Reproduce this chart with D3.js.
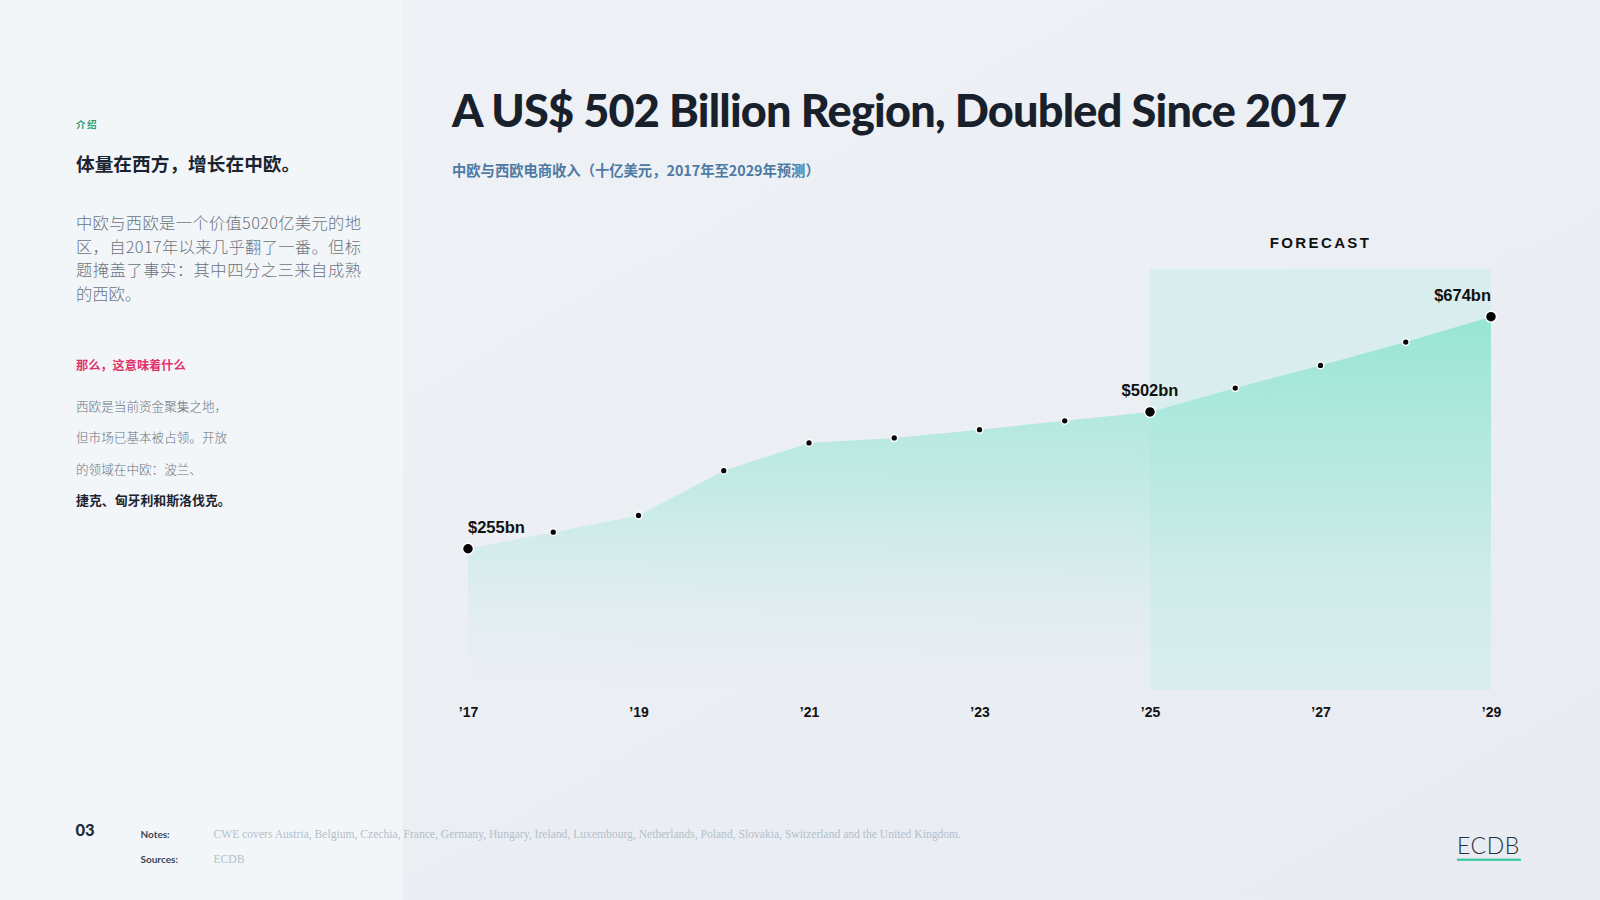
<!DOCTYPE html>
<html>
<head>
<meta charset="utf-8">
<script src="https://cdn.jsdelivr.net/npm/d3@7"></script>
<style>
  body { margin: 0; background: #edf0f4; }
  svg { display: block; }
</style>
</head>
<body>
<div id="chart"></div>
<script>
// Chart data
const years = [2017, 2018, 2019, 2020, 2021, 2022, 2023, 2024, 2025, 2026, 2027, 2028, 2029];
const revenue = [255, 285, 315, 396, 446, 455, 470, 486, 502, 545, 586, 628, 674];
const tickYears = [2017, 2019, 2021, 2023, 2025, 2027, 2029];
const tickLabels = ["’17", "’19", "’21", "’23", "’25", "’27", "’29"];
const calloutYears = [2017, 2025, 2029];
const calloutLabels = ["$255bn", "$502bn", "$674bn"];
const forecastYears = [2025, 2029];

// Side panel text
const introParagraph = [
  "中欧与西欧是一个价值5020亿美元的地",
  "区，自2017年以来几乎翻了一番。但标",
  "题掩盖了事实：其中四分之三来自成熟",
  "的西欧。"
];
const meaningLines = [
  "西欧是当前资金聚集之地，",
  "但市场已基本被占领。开放",
  "的领域在中欧：波兰、",
  "捷克、匈牙利和斯洛伐克。"
];

const width = 1600;
const height = 900;
const sans = "'Liberation Sans', Arial, sans-serif";
const cjk = "'Noto Sans CJK SC', 'Noto Sans', sans-serif";

const svg = d3.select("#chart")
  .append("svg")
  .attr("width", width)
  .attr("height", height);

const defs = svg.append("defs");

// background gradient
const bgGrad = defs.append("linearGradient")
  .attr("id", "bgGrad")
  .attr("x1", "0").attr("y1", "0").attr("x2", "1").attr("y2", "1");
bgGrad.append("stop").attr("offset", "0%").attr("stop-color", "#eff2f6");
bgGrad.append("stop").attr("offset", "100%").attr("stop-color", "#e8ecf2");

svg.append("rect")
  .attr("width", width).attr("height", height)
  .attr("fill", "url(#bgGrad)");

// left panel
svg.append("rect")
  .attr("width", 403).attr("height", height)
  .attr("fill", "#f3f6f9");

// Scales
const x = d3.scaleLinear().domain([2017, 2029]).range([468, 1491]);
const y = d3.scaleLinear().domain([0, 760]).range([690, 269]);

const data = years.map((yr, i) => ({ year: yr, value: revenue[i] }));

// area gradient (fades toward the baseline)
const areaGrad = defs.append("linearGradient")
  .attr("id", "areaGrad")
  .attr("gradientUnits", "userSpaceOnUse")
  .attr("x1", 0).attr("x2", 0)
  .attr("y1", y(d3.max(revenue))).attr("y2", y(0));
areaGrad.append("stop").attr("offset", "0%").attr("stop-color", "#8be4cf").attr("stop-opacity", 0.85);
areaGrad.append("stop").attr("offset", "50%").attr("stop-color", "#a3e6d9").attr("stop-opacity", 0.5);
areaGrad.append("stop").attr("offset", "100%").attr("stop-color", "#cfe9ea").attr("stop-opacity", 0.0);

// Forecast band
svg.append("rect")
  .attr("x", x(forecastYears[0]))
  .attr("y", y.range()[1])
  .attr("width", x(forecastYears[1]) - x(forecastYears[0]))
  .attr("height", y(0) - y.range()[1])
  .attr("fill", "rgba(160,236,222,0.22)");

svg.append("text")
  .attr("x", (x(forecastYears[0]) + x(forecastYears[1])) / 2)
  .attr("y", 248)
  .attr("text-anchor", "middle")
  .attr("font-family", sans)
  .attr("font-weight", 700)
  .attr("font-size", 15)
  .attr("letter-spacing", 2.4)
  .attr("fill", "#111")
  .text("FORECAST");

// Area
const area = d3.area()
  .x(d => x(d.year))
  .y0(y(0))
  .y1(d => y(d.value))
  .curve(d3.curveLinear);

svg.append("path")
  .datum(data)
  .attr("d", area)
  .attr("fill", "url(#areaGrad)");

// Dots
svg.selectAll(".dot")
  .data(data)
  .enter()
  .append("circle")
  .attr("class", "dot")
  .attr("cx", d => x(d.year))
  .attr("cy", d => y(d.value))
  .attr("r", d => calloutYears.includes(d.year) ? 5.5 : 3.4)
  .attr("fill", "#050505")
  .attr("stroke", "#fff")
  .attr("stroke-width", 1.5);

// Callout labels
svg.selectAll(".callout")
  .data(calloutYears)
  .enter()
  .append("text")
  .attr("class", "callout")
  .attr("x", d => x(d))
  .attr("y", d => y(revenue[years.indexOf(d)]) - 16)
  .attr("text-anchor", (d, i) => i === 0 ? "start" : (i === calloutYears.length - 1 ? "end" : "middle"))
  .attr("font-family", sans)
  .attr("font-weight", 700)
  .attr("font-size", 16.5)
  .attr("fill", "#111")
  .text((d, i) => calloutLabels[i]);

// X axis
const xAxis = svg.append("g")
  .attr("transform", "translate(0," + y(0) + ")")
  .call(d3.axisBottom(x)
    .tickValues(tickYears)
    .tickFormat((d, i) => tickLabels[i])
    .tickSize(0)
    .tickPadding(17));
xAxis.select(".domain").remove();
xAxis.selectAll("text")
  .attr("font-family", sans)
  .attr("font-weight", 700)
  .attr("font-size", 14)
  .attr("fill", "#111");

// Title + subtitle
const title = svg.append("text")
  .attr("x", 452)
  .attr("y", 127)
  .attr("font-family", "Lato, Inter, sans-serif")
  .attr("font-weight", 900)
  .attr("font-size", 45)
  .attr("fill", "#18202c")
  .text("A US$ 502 Billion Region, Doubled Since 2017");
// fit the title to the reference width
const tw = title.node().getComputedTextLength();
title.attr("letter-spacing", (895 - tw) / 43);

svg.append("text")
  .attr("x", 452)
  .attr("y", 176)
  .attr("font-family", cjk)
  .attr("font-weight", 700)
  .attr("font-size", 14.3)
  .attr("fill", "#4d7aa3")
  .text("中欧与西欧电商收入（十亿美元，2017年至2029年预测）");

// Left panel text
svg.append("text")
  .attr("x", 76).attr("y", 128)
  .attr("font-family", cjk).attr("font-weight", 700)
  .attr("font-size", 9.5).attr("letter-spacing", 1.5)
  .attr("fill", "#2a9d78")
  .text("介绍");

svg.append("text")
  .attr("x", 76).attr("y", 170.5)
  .attr("font-family", cjk).attr("font-weight", 700)
  .attr("font-size", 18.7)
  .attr("fill", "#1b2430")
  .text("体量在西方，增长在中欧。");

svg.selectAll(".intro")
  .data(introParagraph)
  .enter()
  .append("text")
  .attr("class", "intro")
  .attr("x", 76)
  .attr("y", (d, i) => 229 + i * 23.6)
  .attr("font-family", cjk)
  .attr("font-weight", 300)
  .attr("font-size", 16.3)
  .attr("fill", "#6b7480")
  .each(function(d, i) {
    if (i < introParagraph.length - 1) {
      d3.select(this).attr("textLength", 285).attr("lengthAdjust", "spacing");
    }
  })
  .text(d => d);

svg.append("text")
  .attr("x", 76).attr("y", 370)
  .attr("font-family", cjk).attr("font-weight", 700)
  .attr("font-size", 12.2)
  .attr("fill", "#e0336c")
  .text("那么，这意味着什么");

svg.selectAll(".meaning")
  .data(meaningLines)
  .enter()
  .append("text")
  .attr("class", "meaning")
  .attr("x", 76)
  .attr("y", (d, i) => 410.5 + i * 31.5)
  .attr("font-family", cjk)
  .attr("font-weight", (d, i) => i === meaningLines.length - 1 ? 700 : 300)
  .attr("font-size", (d, i) => i === meaningLines.length - 1 ? 12.9 : 12.6)
  .attr("fill", (d, i) => i === meaningLines.length - 1 ? "#1b2430" : "#6b7480")
  .text(d => d);

// Footer
svg.append("text")
  .attr("x", 75.5).attr("y", 835.5)
  .attr("font-family", "Lato, " + sans).attr("font-weight", 900)
  .attr("font-size", 16.5)
  .attr("fill", "#1e2b3c")
  .text("03");

const footLabels = ["Notes:", "Sources:"];
const footTexts = [
  "CWE covers Austria, Belgium, Czechia, France, Germany, Hungary, Ireland, Luxembourg, Netherlands, Poland, Slovakia, Switzerland and the United Kingdom.",
  "ECDB"
];
footLabels.forEach((lab, i) => {
  svg.append("text")
    .attr("x", 140.5).attr("y", 837.5 + i * 25)
    .attr("font-family", "Lato, " + sans).attr("font-weight", 700)
    .attr("font-size", 10)
    .attr("fill", "#3a4757")
    .text(lab);
  svg.append("text")
    .attr("x", 213.5).attr("y", 837.5 + i * 25)
    .attr("font-family", "'Liberation Serif', 'DejaVu Serif', serif")
    .attr("font-size", 11.6)
    .attr("fill", "#b3bfcb")
    .text(footTexts[i]);
});

// Logo
svg.append("text")
  .attr("x", 1457).attr("y", 854)
  .attr("font-family", "Lato, " + sans).attr("font-weight", 300)
  .attr("font-size", 23)
  .attr("letter-spacing", 0.6)
  .attr("fill", "#26303b")
  .text("ECDB");
svg.append("rect")
  .attr("x", 1457).attr("y", 858.6)
  .attr("width", 64).attr("height", 2.3)
  .attr("fill", "#3cc9a4");
</script>
</body>
</html>
